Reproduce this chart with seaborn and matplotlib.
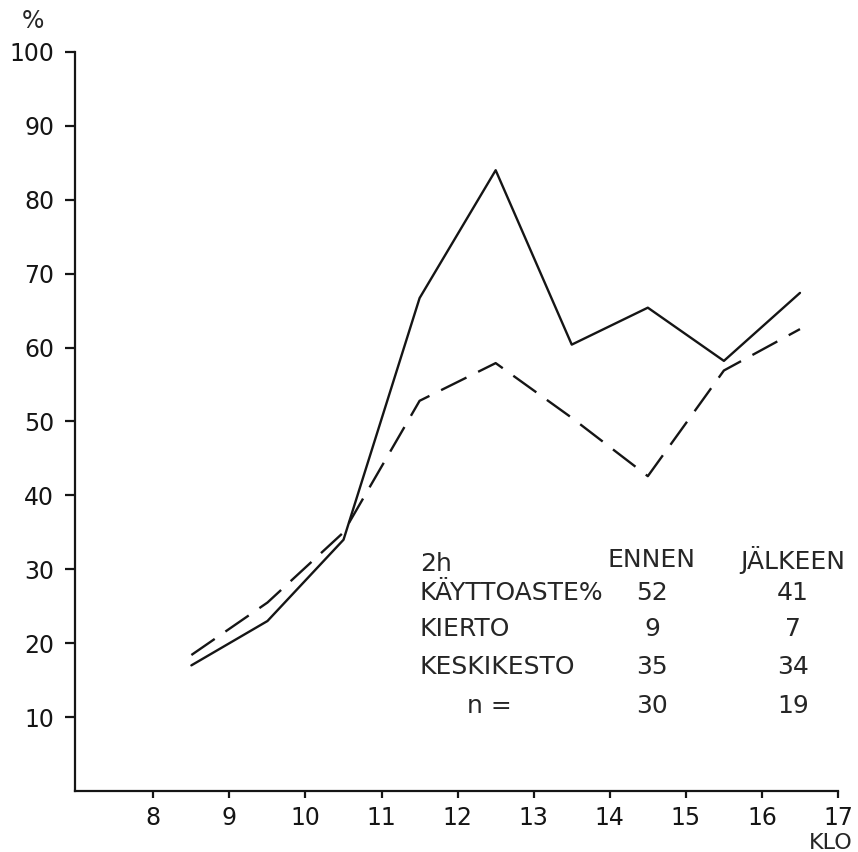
import numpy as np
import pandas as pd
import matplotlib
matplotlib.use('Agg')
import matplotlib.pyplot as plt
import seaborn as sns

# Data
hours = [8.5, 9.5, 10.5, 11.5, 12.5, 13.5, 14.5, 15.5, 16.5]
ennen = [17.0, 23.0, 34.0, 66.7, 84.0, 60.4, 65.4, 58.2, 67.4]      # solid
jalkeen = [18.4, 25.5, 35.0, 52.8, 57.9, 50.5, 42.6, 56.9, 62.5]    # dashed
x_ticks = [8, 9, 10, 11, 12, 13, 14, 15, 16, 17]
y_ticks = [10, 20, 30, 40, 50, 60, 70, 80, 90, 100]

row_labels = ['KÄYTTOASTE%', 'KIERTO', 'KESKIKESTO', 'n =']
ennen_vals = ['52', '9', '35', '30']
jalkeen_vals = ['41', '7', '34', '19']

sns.set_style('ticks')
plt.rcParams['font.family'] = ['DejaVu Sans']

fig = plt.figure(figsize=(8.58, 8.52), dpi=100)
ax = fig.add_axes([0.0874, 0.0716, 0.8893, 0.8674])

df = pd.DataFrame({'KLO': hours, 'ennen': ennen, 'jalkeen': jalkeen})
sns.lineplot(data=df, x='KLO', y='ennen', ax=ax, color='#151515', linewidth=1.7)
sns.lineplot(data=df, x='KLO', y='jalkeen', ax=ax, color='#151515', linewidth=1.7)
ax.lines[-1].set_dashes((12, 5.5))

ax.set_xlim(6.97, 17)
ax.set_ylim(0, 100)
ax.set_xticks(x_ticks)
ax.set_yticks(y_ticks)
ax.set_xlabel('')
ax.set_ylabel('')
sns.despine(ax=ax)
for s in ['left', 'bottom']:
    ax.spines[s].set_linewidth(1.6)
    ax.spines[s].set_color('#151515')
ax.tick_params(axis='x', direction='out', length=5, width=1.6, pad=6, labelsize=17,
               colors='#151515')
ax.tick_params(axis='y', direction='out', length=7, width=1.6, pad=8, labelsize=17,
               colors='#151515')

ax.text(-0.055, 1.042, '%', transform=ax.transAxes, ha='center', va='center', fontsize=17)
ax.text(0.99, -0.0785, 'KLO', transform=ax.transAxes, ha='center', va='baseline', fontsize=16)

# table of figures
fs = 18
ax.text(0.452, 0.307, '2h', transform=ax.transAxes, ha='left', va='center', fontsize=fs)
ax.text(0.756, 0.313, 'ENNEN', transform=ax.transAxes, ha='center', va='center', fontsize=fs)
ax.text(0.941, 0.313, 'JÄLKEEN', transform=ax.transAxes, ha='center', va='center', fontsize=fs)
row_y = [0.268, 0.219, 0.168, 0.115]
for i, lab in enumerate(row_labels):
    x0 = 0.514 if lab.startswith('n') else 0.452
    ax.text(x0, row_y[i], lab, transform=ax.transAxes, ha='left', va='center', fontsize=fs)
    ax.text(0.756, row_y[i], ennen_vals[i], transform=ax.transAxes, ha='center', va='center', fontsize=fs)
    ax.text(0.941, row_y[i], jalkeen_vals[i], transform=ax.transAxes, ha='center', va='center', fontsize=fs)

fig.savefig('out.png', dpi=100, facecolor='white')
